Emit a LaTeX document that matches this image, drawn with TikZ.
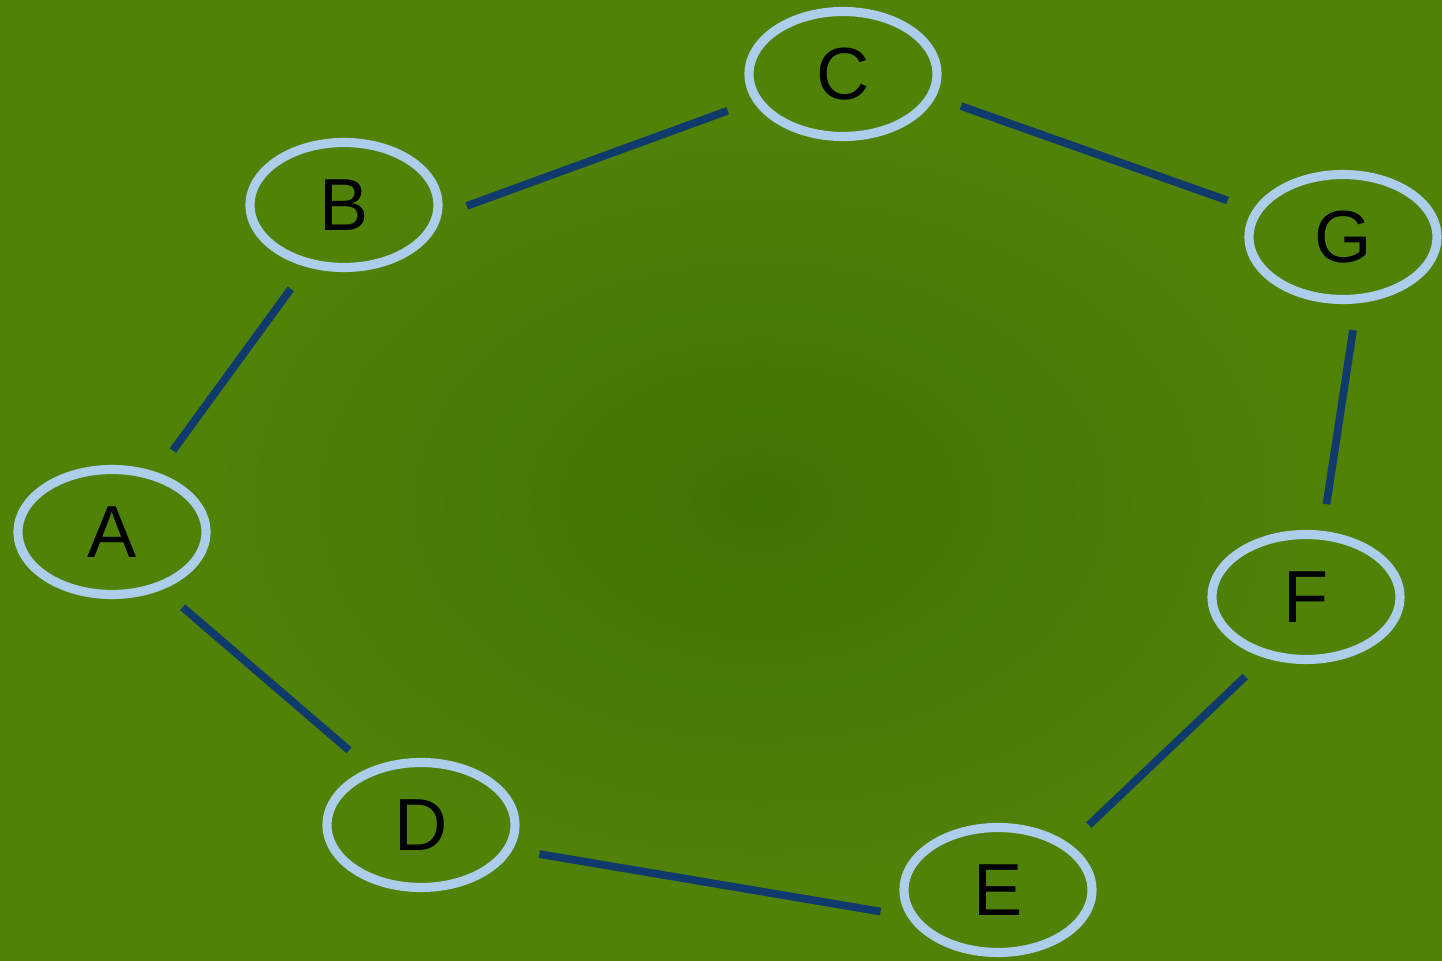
\documentclass[tikz,border=0pt]{standalone}
\usepackage{fontspec}
\setmainfont{Liberation Sans}
\definecolor{ringBlue}{RGB}{172,206,234}
\definecolor{edgeBlue}{RGB}{16,58,108}
\definecolor{bgGreen}{RGB}{80,130,8}
\definecolor{bgDark}{RGB}{62,110,4}
\usetikzlibrary{shapes.geometric}

\begin{document}
\begin{tikzpicture}[
  vert/.style={ellipse, draw=ringBlue, line width=2.6pt, minimum width=1.88cm,
               minimum height=1.25cm, inner sep=0pt, font=\fontsize{21}{24}\selectfont},
  link/.style={draw=edgeBlue, line width=2.2pt, shorten <=0.27cm, shorten >=0.27cm}
]
  % background
  \fill[bgGreen] (0,0) rectangle (14.42,9.61);
  \shade[inner color=bgDark, outer color=bgGreen, opacity=0.8] (7.6,4.6) ellipse (5.5cm and 3.8cm);
  \useasboundingbox (0,0) rectangle (14.42,9.61);

  \node[vert] (A) at (1.12,4.29) {A};
  \node[vert] (B) at (3.44,7.56) {B};
  \node[vert] (C) at (8.43,8.87) {C};
  \node[vert] (G) at (13.43,7.24) {G};
  \node[vert] (F) at (13.06,3.64) {F};
  \node[vert] (D) at (4.21,1.36) {D};
  \node[vert] (E) at (9.98,0.71) {E};

  \draw[link] (A.53)   -- (B.-121);
  \draw[link] (B.-6)   -- (C.-163);
  \draw[link] (C.-14)  -- (G.163);
  \draw[link] (G.-78)  -- (F.76);
  \draw[link] (F.-124) -- (E.33);
  \draw[link] (D.-15)  -- (E.-164);
  \draw[link] (A.-49)  -- (D.132);
\end{tikzpicture}
\end{document}
